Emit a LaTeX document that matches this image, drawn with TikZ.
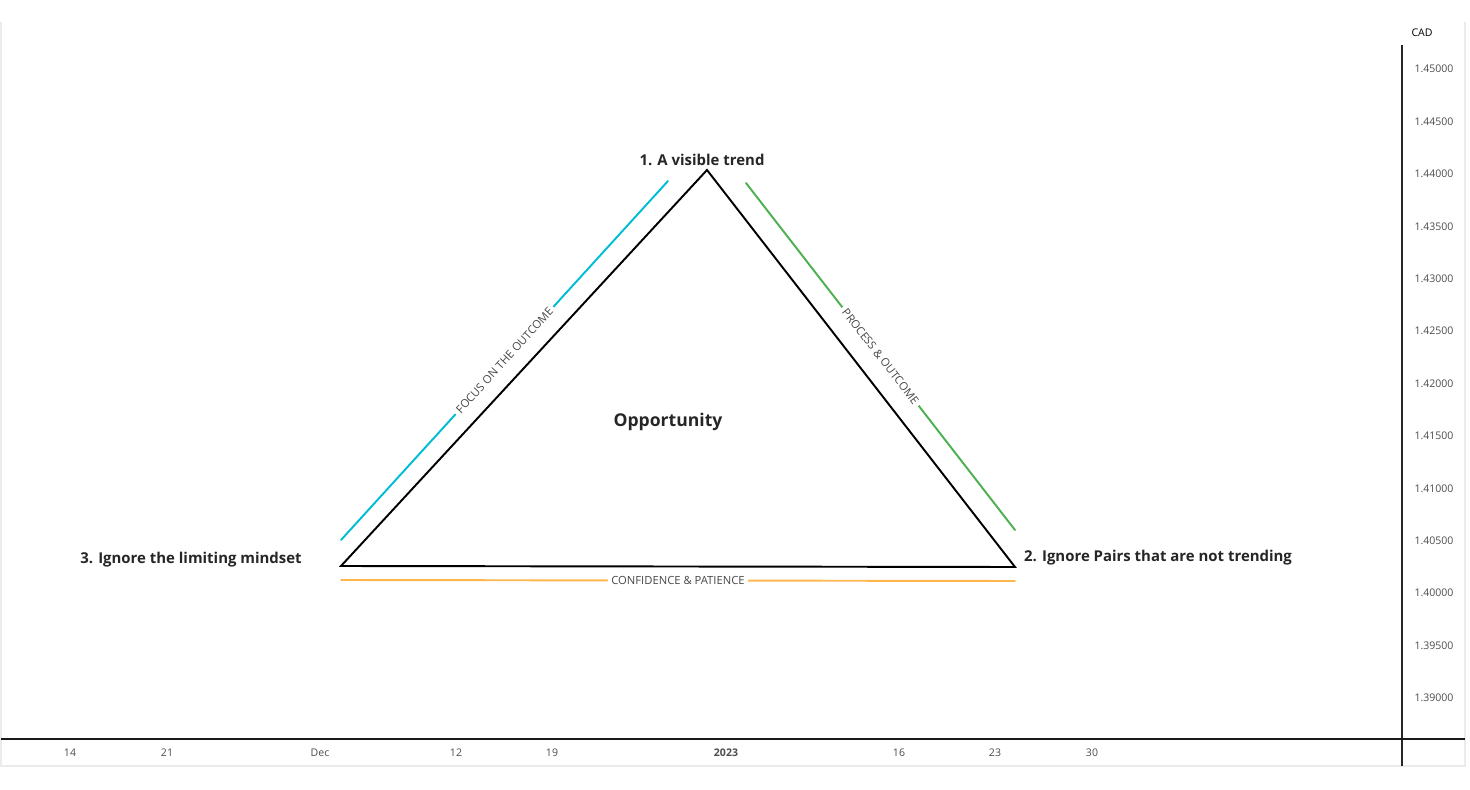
\documentclass[tikz,border=0pt]{standalone}
\usepackage{fontspec}
\setmainfont{Open Sans}
\definecolor{focuscyan}{HTML}{00BCD4}
\definecolor{processgreen}{HTML}{4CAF50}
\definecolor{patienceorange}{HTML}{FFB74D}
\begin{document}
\begin{tikzpicture}[x=0.02cm,y=-0.02cm,
  vertex/.style={font=\bfseries\fontsize{8.5}{10}\selectfont, text=black!85},
  sidelabel/.style={sloped, fill=white, inner sep=2pt, font=\fontsize{6.4}{7}\selectfont, text=black!72},
  ticklabel/.style={font=\fontsize{6}{7}\selectfont, text=black!70},
  edge/.style={line width=1.1pt, line cap=round}]
\useasboundingbox (0,0) rectangle (1470,790);
% Chart frame and axes
\draw[black!8, line width=0.8pt] (1,22) -- (1,766) -- (1465,766) -- (1465,22);
\draw[black!85, line width=0.8pt] (1402,45) -- (1402,766);
\draw[black!90, line width=0.8pt] (1,739) -- (1465,739);
\node[ticklabel, text=black] (cad) at (1422,33) {CAD};
\foreach \v [count=\i from 0] in {45000,44500,44000,43500,43000,42500,42000,41500,41000,40500,40000,39500,39000}
  \node[ticklabel] (price\i) at (1434,69+52.42*\i) {1.\v};
\foreach \x/\t in {70/14,167/21,320/Dec,456/12,552/19,899/16,995/23,1092/30}
  \node[ticklabel] (date\t) at (\x,753) {\t};
\node[ticklabel, font=\bfseries\fontsize{6}{7}\selectfont] (year) at (726,753) {2023};
% Triangle
\coordinate (top) at (707,170);
\coordinate (left) at (341,566);
\coordinate (right) at (1015,567);
\draw[edge] (top) -- (right) -- (left) -- cycle;
\node[vertex] (toplabel) at (702,160) {1. A visible trend};
\node[vertex] (leftlabel) at (191,560) {3. Ignore the limiting mindset};
\node[vertex] (rightlabel) at (1158,558) {2. Ignore Pairs that are not trending};
\node[font=\bfseries\fontsize{10}{12}\selectfont, text=black!85] (centre) at (668,422) {Opportunity};
% Side lines
\coordinate (cyanA) at (341,540);
\coordinate (cyanB) at (668,181);
\coordinate (greenA) at (746,183);
\coordinate (greenB) at (1015,530);
\coordinate (orangeA) at (341,580);
\coordinate (orangeB) at (1015,581);
\draw[edge, focuscyan] (cyanA) -- node[sidelabel] {FOCUS ON THE OUTCOME} (cyanB);
\draw[edge, processgreen] (greenA) -- node[sidelabel] {PROCESS \& OUTCOME} (greenB);
\draw[edge, patienceorange] (orangeA) -- node[sidelabel] {CONFIDENCE \& PATIENCE} (orangeB);
\end{tikzpicture}
\end{document}
